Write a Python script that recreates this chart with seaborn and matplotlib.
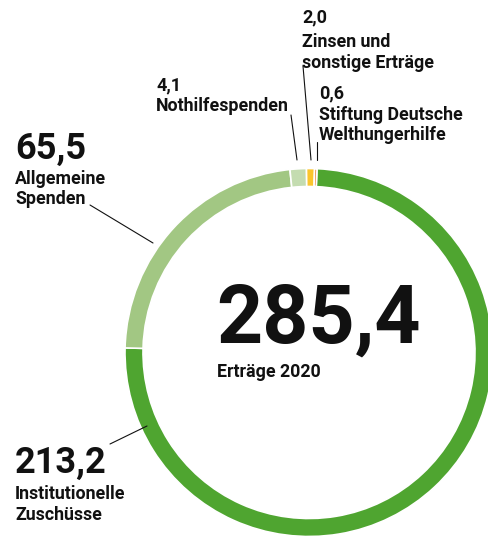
import matplotlib
matplotlib.use("Agg")
import matplotlib.pyplot as plt
import seaborn as sns

# income 2020 (million EUR), clockwise from the top
values = [213.2, 65.5, 4.1, 2.0, 0.6]
value_labels = ["213,2", "65,5", "4,1", "2,0", "0,6"]
names = ["Institutionelle\nZuschüsse", "Allgemeine\nSpenden", "Nothilfespenden",
         "Zinsen und\nsonstige Erträge", "Stiftung Deutsche\nWelthungerhilfe"]
colors = ["#4fa530", "#a2c783", "#c4dcb0", "#fbc52e", "#e8761f"]
total_label = "285,4"
total_title = "Erträge 2020"

sns.set_theme(style="white")
plt.rcParams["font.family"] = ["Roboto", "DejaVu Sans"]

W, H = 489, 540
fig = plt.figure(figsize=(W / 100, H / 100), dpi=100)
ax = fig.add_axes([0, 0, 1, 1])

cx, cy, r = 309, H - 352.5, 184
ax.pie(values, colors=colors, startangle=87.5, counterclock=False,
       center=(cx, cy), radius=r,
       wedgeprops=dict(width=18, edgecolor="white", linewidth=1.2))
ax.set_xlim(0, W)
ax.set_ylim(0, H)
ax.set_aspect("equal")
ax.axis("off")

INK = "#111111"


def label(x, y_num, y_name, num, name, big=False):
    # y values are pixel baselines from the top of the picture
    ax.text(x, H - y_num, num, fontsize=26 if big else 13, fontweight="bold",
            ha="left", va="baseline", color=INK)
    for i, line in enumerate(name.split("\n")):
        ax.text(x, H - (y_name + i * 20.5), line, fontsize=12.8, fontweight="bold",
                ha="left", va="baseline", color=INK)


label(15, 473, 499, value_labels[0], names[0], big=True)
label(15, 159, 184, value_labels[1], names[1], big=True)
label(156, 90, 111, value_labels[2], names[2])
label(302, 22, 47, value_labels[3], names[3])
label(319, 98, 120, value_labels[4], names[4])

# leader lines
leaders = [((110, 444), (147, 426)), ((90, 205), (153, 243)),
           ((291, 115), (297, 160)), ((303, 66), (311, 160)),
           ((317, 142), (317, 160))]
for (x0, y0), (x1, y1) in leaders:
    ax.plot([x0, x1], [H - y0, H - y1], color=INK, lw=0.8)

ax.text(216, H - 343, total_label, fontsize=58, fontweight="bold",
        ha="left", va="baseline", color=INK)
ax.text(217, H - 377, total_title, fontsize=12.8, fontweight="bold",
        ha="left", va="baseline", color=INK)

fig.savefig("out.png", dpi=100)
